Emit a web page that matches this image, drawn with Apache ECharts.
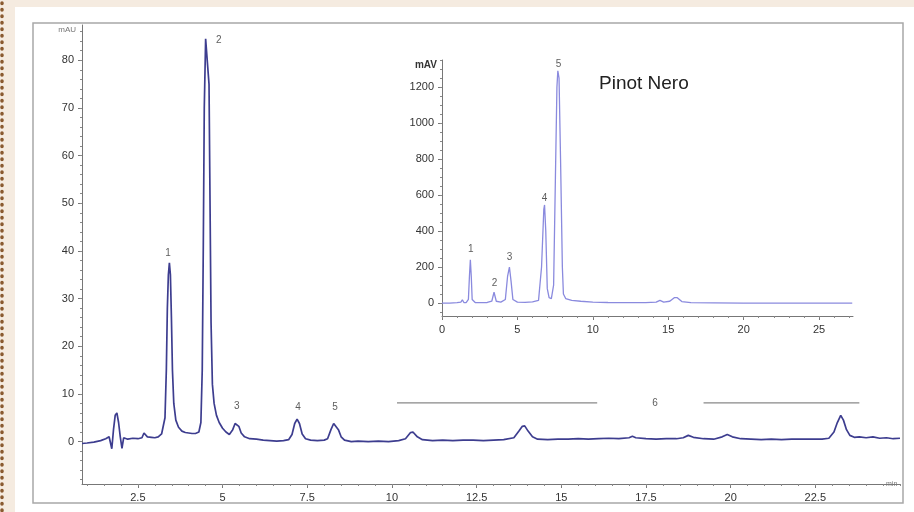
<!DOCTYPE html>
<html>
<head>
<meta charset="utf-8">
<script src="https://cdn.jsdelivr.net/npm/echarts@6.0.0/dist/echarts.min.js"></script>
<style>
  html, body { margin: 0; padding: 0; background: #f5ebe0; }
  #chart { width: 914px; height: 512px; }
</style>
</head>
<body>
<div id="chart"></div>
<script>
// main chromatogram (mAU vs min)
var mainTrace = [
  [0.85,-0.4],[1.0,-0.3],[1.2,-0.1],[1.4,0.2],[1.55,0.6],[1.65,1.0],[1.68,1.2],[1.73,-1.5],
  [1.78,2.5],[1.83,5.5],[1.88,6.0],[1.93,4.0],[1.98,1.0],[2.03,-1.4],[2.08,0.8],[2.2,0.5],
  [2.35,0.7],[2.5,0.6],[2.62,0.8],[2.68,1.8],[2.72,2.1],[2.78,1.0],[2.9,0.9],[3.0,0.8],
  [3.1,1.0],[3.2,1.6],[3.25,2.0],[3.3,5],[3.34,15],[3.37,28],[3.40,35],[3.43,37.5],
  [3.46,35],[3.49,26],[3.52,15],[3.56,8],[3.62,4.5],[3.7,3],[3.8,2.2],[3.9,1.9],
  [4.0,1.8],[4.1,1.7],[4.2,1.7],[4.3,2.0],[4.36,4],[4.40,15],[4.43,40],[4.46,70],
  [4.50,84.5],[4.55,84.8],[4.60,75],[4.63,50],[4.66,25],[4.70,12],[4.75,8],[4.82,5.5],
  [4.9,4],[5.0,2.8],[5.1,2],[5.2,1.5],[5.3,2.5],[5.37,3.8],[5.42,4.2],[5.48,3.2],
  [5.55,1.8],[5.65,1.0],[5.8,0.6],[6.0,0.5],[6.2,0.3],[6.4,0.2],[6.6,0.1],[6.8,0.2],
  [6.95,0.4],[7.05,1.5],[7.13,3.8],[7.2,4.7],[7.27,3.8],[7.35,1.6],[7.45,0.6],[7.6,0.3],
  [7.8,0.2],[8.0,0.3],[8.1,0.6],[8.2,2.5],[8.28,3.8],[8.33,3.9],[8.42,2.5],[8.5,1.0],
  [8.6,0.3],[8.8,0.0],[9.0,0.1],[9.3,0.0],[9.6,0.1],[9.9,0.0],[10.2,0.2],[10.4,0.6],
  [10.55,1.9],[10.62,2.0],[10.75,1.0],[10.9,0.4],[11.2,0.2],[11.5,0.3],[11.8,0.2],[12.1,0.3],
  [12.4,0.3],[12.7,0.2],[13.0,0.3],[13.3,0.4],[13.6,0.8],[13.75,2.2],[13.85,3.2],[13.92,3.3],
  [14.02,2.2],[14.15,1.0],[14.3,0.5],[14.6,0.4],[14.9,0.5],[15.2,0.5],[15.5,0.6],[15.8,0.5],
  [16.1,0.6],[16.4,0.7],[16.7,0.6],[17.0,0.8],[17.1,1.1],[17.2,0.8],[17.5,0.6],[17.8,0.5],
  [18.1,0.6],[18.4,0.6],[18.6,0.8],[18.75,1.3],[18.9,0.9],[19.2,0.6],[19.5,0.5],[19.75,1.0],
  [19.9,1.5],[20.05,1.0],[20.3,0.6],[20.6,0.5],[20.9,0.4],[21.2,0.5],[21.5,0.4],[21.8,0.5],
  [22.1,0.5],[22.4,0.5],[22.7,0.5],[22.9,0.7],[23.05,2.0],[23.15,4.0],[23.25,5.5],[23.33,4.5],
  [23.42,2.5],[23.52,1.3],[23.65,0.9],[23.8,1.0],[24.0,0.8],[24.2,1.0],[24.4,0.7],[24.6,0.8],
  [24.8,0.6],[25.0,0.7]
];
// inset: Pinot Nero (mAV vs min)
var insetTrace = [
  [0,0],[0.5,0],[1.0,2],[1.25,5],[1.35,18],[1.45,3],[1.6,2],[1.75,20],[1.82,150],[1.88,240],
  [1.94,150],[2.0,20],[2.2,3],[2.6,2],[3.0,3],[3.3,10],[3.45,60],[3.6,10],[3.9,5],[4.2,20],
  [4.35,150],[4.47,200],[4.58,120],[4.7,20],[5.0,5],[5.5,4],[6.0,6],[6.4,15],[6.6,200],
  [6.75,520],[6.8,545],[6.88,400],[6.98,80],[7.1,30],[7.25,25],[7.4,100],[7.52,700],[7.62,1200],
  [7.68,1290],[7.76,1250],[7.86,800],[7.98,200],[8.05,50],[8.2,25],[8.6,15],[9.2,10],[10.0,5],
  [11.0,3],[12.0,2],[13.5,2],[14.2,5],[14.45,15],[14.7,5],[15.1,10],[15.4,30],[15.6,30],
  [15.9,8],[16.5,2],[18,1],[20,0],[22,0],[24,0],[26,0],[27.2,0]
];

// peak numbers [text, x, y]
var mainPeakLabels = [['1',3.39,39.6],['2',4.89,84.2],['3',5.42,7.5],['4',7.23,7.1],['5',8.32,7.1],['6',17.77,8.1]];
var insetPeakLabels = [['1',1.9,300],['2',3.49,111],['3',4.48,255],['4',6.79,583],['5',7.73,1327]];
// bracket lines of peak 6
var range6a = [[10.15,8.1],[16.06,8.1]];
var range6b = [[19.2,8.1],[23.8,8.1]];

// tick labels
var mainXTicks = [2.5,5,7.5,10,12.5,15,17.5,20,22.5];
var mainYTicks = [0,10,20,30,40,50,60,70,80];
var insetXTicks = [0,5,10,15,20,25];
var insetYTicks = [0,200,400,600,800,1000,1200];

function steps(a, b, s) {
    var out = [];
    for (var v = a; v <= b + 1e-9; v += s) out.push(+v.toFixed(3));
    return out;
}

var chart = echarts.init(document.getElementById('chart'));
var FONT = 'Liberation Sans';
var lbl = { fontFamily: FONT, fontSize: 11, color: '#333', formatter: function (v) { return String(v); } };

function labelSeries(list, xi, yi) {
    return {
        type: 'scatter', xAxisIndex: xi, yAxisIndex: yi, symbolSize: 0, silent: true,
        data: list.map(function (d) { return { name: d[0], value: [d[1], d[2]] }; }),
        label: { show: true, position: 'inside', formatter: '{b}',
                 fontFamily: FONT, fontSize: 10, color: '#333' }
    };
}

function majorAxis(grid, pos, min, max, ticks, extra) {
    var a = {
        type: 'value', gridIndex: grid, position: pos, min: min, max: max,
        axisLine: { show: true, onZero: false, lineStyle: { color: '#777', width: 1 } },
        axisTick: { show: true, customValues: ticks, length: 4, lineStyle: { color: '#777' } },
        axisLabel: Object.assign({ customValues: ticks }, lbl),
        splitLine: { show: false }
    };
    return Object.assign(a, extra || {});
}
// second axis on the same side, only for the small ticks
function minorAxis(grid, pos, min, max, ticks) {
    return {
        type: 'value', gridIndex: grid, position: pos, min: min, max: max,
        axisLine: { show: false, onZero: false },
        axisTick: { show: true, customValues: ticks, length: 2, lineStyle: { color: '#888' } },
        axisLabel: { show: false }, splitLine: { show: false }
    };
}

var option = {
    animation: false,
    backgroundColor: '#f5ebe0',
    graphic: [
        { type: 'rect', z: -10, shape: { x: 15, y: 7, width: 899, height: 505 }, style: { fill: '#fff' } },
        { type: 'rect', z: -9, shape: { x: 33, y: 23, width: 870, height: 480 },
          style: { fill: 'none', stroke: '#a8a8a8', lineWidth: 1.5 } },
        { type: 'line', shape: { x1: 2, y1: 3, x2: 2, y2: 512 },
          style: { stroke: '#8a5a30', lineWidth: 3.5, lineDash: [0.5, 6], lineCap: 'round' } },
        { type: 'text', left: 599, top: 74,
          style: { text: 'Pinot Nero', font: '19px "Liberation Sans"', fill: '#222' } }
    ],
    grid: [
        { left: 82, right: 14, top: 25, bottom: 28 },
        { left: 442, right: 61, top: 60, bottom: 196 }
    ],
    xAxis: [
        majorAxis(0, 'bottom', 0.85, 25, mainXTicks, { name: 'min', nameLocation: 'end', nameGap: -14,
            nameTextStyle: { fontFamily: FONT, fontSize: 7, color: '#777', padding: [20, 0, 0, 0] } }),
        minorAxis(0, 'bottom', 0.85, 25, steps(1, 25, 0.5)),
        majorAxis(1, 'bottom', 0, 27.25, insetXTicks),
        minorAxis(1, 'bottom', 0, 27.25, steps(0, 27, 1))
    ],
    yAxis: [
        majorAxis(0, 'left', -8.9, 87.4, mainYTicks, { name: 'mAU', nameLocation: 'end', nameGap: -9,
            nameTextStyle: { fontFamily: FONT, fontSize: 8, color: '#777', align: 'right', padding: [0, 6, 0, 0] } }),
        minorAxis(0, 'left', -8.9, 87.4, steps(-8, 86, 2)),
        majorAxis(1, 'left', -72, 1350, insetYTicks, { name: 'mAV', nameLocation: 'end', nameGap: -10,
            nameTextStyle: { fontFamily: FONT, fontSize: 10, fontWeight: 'bold', color: '#333', align: 'right', padding: [0, 5, 0, 0] } }),
        minorAxis(1, 'left', -72, 1350, steps(-50, 1350, 50))
    ],
    series: [
        { type: 'line', xAxisIndex: 0, yAxisIndex: 0, data: mainTrace, showSymbol: false,
          lineStyle: { color: '#3d3d8f', width: 1.7 } },
        { type: 'line', xAxisIndex: 0, yAxisIndex: 0, data: range6a, showSymbol: false,
          lineStyle: { color: '#888', width: 1.2 } },
        { type: 'line', xAxisIndex: 0, yAxisIndex: 0, data: range6b, showSymbol: false,
          lineStyle: { color: '#888', width: 1.2 } },
        { type: 'line', xAxisIndex: 2, yAxisIndex: 2, data: insetTrace, showSymbol: false,
          lineStyle: { color: '#8a8ade', width: 1.3 } },
        labelSeries(mainPeakLabels, 0, 0),
        labelSeries(insetPeakLabels, 2, 2)
    ]
};
chart.setOption(option);
</script>
</body>
</html>
